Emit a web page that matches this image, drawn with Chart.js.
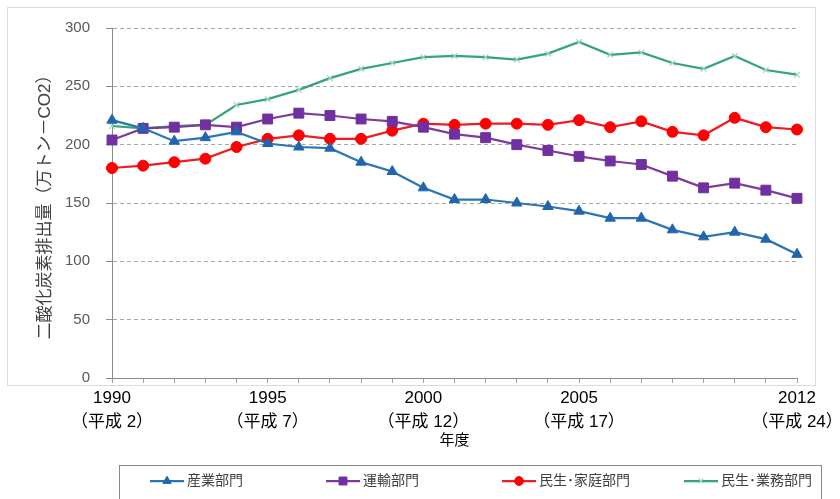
<!DOCTYPE html>
<html>
<head>
<meta charset="utf-8">
<script src="https://cdn.jsdelivr.net/npm/chart.js@4/dist/chart.umd.min.js"></script>
<style>
  html, body { margin: 0; padding: 0; background: #fff; }
  #wrap { width: 840px; height: 499px; }
</style>
</head>
<body>
<div id="wrap"><canvas id="c" width="840" height="499"></canvas></div>
<script>
// 年度 (fiscal years)
const years = [1990, 1991, 1992, 1993, 1994, 1995, 1996, 1997, 1998, 1999, 2000,
               2001, 2002, 2003, 2004, 2005, 2006, 2007, 2008, 2009, 2010, 2011, 2012];

// Labelled years and their 平成 equivalents
const labelledYears = [1990, 1995, 2000, 2005, 2012];
const heiseiLabels = ['（平成 2）', '（平成 7）', '（平成 12）', '（平成 17）', '（平成 24）'];

// CO2 emissions by sector (万トン-CO2)
const industry    = [221, 214, 203, 206, 211, 201, 198, 197, 185, 177, 163, 153, 153, 150, 147, 143, 137, 137, 127, 121, 125, 119, 106];
const transport   = [204, 214, 215, 217, 215, 222, 227, 225, 222, 220, 215, 209, 206, 200, 195, 190, 186, 183, 173, 163, 167, 161, 154];
const household   = [180, 182, 185, 188, 198, 205, 208, 205, 205, 212, 218, 217, 218, 218, 217, 221, 215, 220, 211, 208, 223, 215, 213];
const commercial  = [216, 214, 216, 217, 234, 239, 247, 257, 265, 270, 275, 276, 275, 273, 278, 288, 277, 279, 270, 265, 276, 264, 260];

const seriesNames = ['産業部門', '運輸部門', '民生･家庭部門', '民生･業務部門'];

// Y axis range
const yMin = 0, yMax = 300, yStep = 50;

const FONT = '"Liberation Sans", "Noto Sans CJK JP", "DejaVu Sans", sans-serif';

// Outer plot frame and boxed legend drawn on the canvas
const extrasPlugin = {
  id: 'extras',
  afterDraw(chart) {
    const ctx = chart.ctx;
    ctx.save();
    // light frame around the plot
    ctx.strokeStyle = '#dcdcdc';
    ctx.lineWidth = 1;
    ctx.strokeRect(7.5, 7.5, 808, 378);

    // legend box
    ctx.strokeStyle = '#8a8a8a';
    ctx.strokeRect(119.5, 465.5, 702, 40);

    const iconX = [150, 326, 502, 684];
    const iconLen = 34;
    const cy = 481;
    chart.data.datasets.forEach((ds, i) => {
      const x0 = iconX[i];
      ctx.strokeStyle = ds.borderColor;
      ctx.lineWidth = 2.25;
      ctx.beginPath();
      ctx.moveTo(x0, cy);
      ctx.lineTo(x0 + iconLen, cy);
      ctx.stroke();
      ctx.fillStyle = ds.pointBackgroundColor;
      ctx.strokeStyle = ds.pointBorderColor;
      ctx.lineWidth = ds.pointBorderWidth;
      Chart.helpers.drawPoint(ctx, {
        pointStyle: ds.pointStyle,
        rotation: 0,
        radius: ds.pointRadius * 0.8,
        borderWidth: ds.pointBorderWidth
      }, x0 + iconLen / 2, cy);
      ctx.fillStyle = '#404040';
      ctx.font = '14px ' + FONT;
      ctx.textAlign = 'left';
      ctx.textBaseline = 'middle';
      ctx.fillText(ds.label, x0 + iconLen + 3, cy);
    });
    ctx.restore();
  }
};

const makeSet = (label, data, line, fill, style, radius, borderW, borderC) => ({
  label, data,
  borderColor: line,
  backgroundColor: fill,
  borderWidth: 2.25,
  pointStyle: style,
  pointRadius: radius,
  pointHoverRadius: radius,
  pointBackgroundColor: fill,
  pointBorderColor: borderC,
  pointBorderWidth: borderW,
  tension: 0,
  fill: false
});

new Chart(document.getElementById('c'), {
  type: 'line',
  data: {
    labels: years,
    datasets: [
      makeSet(seriesNames[0], industry,   '#2b74b5', '#2166ad', 'triangle', 6,   1, '#2166ad'),
      makeSet(seriesNames[1], transport,  '#7c3c9c', '#7030a0', 'rect',     7,   1, '#7030a0'),
      makeSet(seriesNames[2], household,  '#f01c24', '#ff0000', 'circle',   5.5, 1, '#ff0000'),
      makeSet(seriesNames[3], commercial, '#34a576', '#a9dcc5', 'crossRot', 4,   1.2, '#9fd6bd')
    ]
  },
  options: {
    responsive: false,
    devicePixelRatio: 1,
    animation: false,
    layout: { padding: { left: 0, right: 43, top: 28, bottom: 0 } },
    plugins: {
      legend: { display: false },
      tooltip: { enabled: false }
    },
    scales: {
      x: {
        type: 'category',
        offset: false,
        grid: {
          display: true,
          drawOnChartArea: false,
          drawTicks: true,
          tickLength: 5,
          tickColor: '#a0a0a0'
        },
        border: { display: true, color: '#8c8c8c', width: 1 },
        ticks: {
          autoSkip: false,
          maxRotation: 0,
          minRotation: 0,
          padding: 3,
          color: '#000',
          font: { family: FONT, size: 17, lineHeight: 1.42 },
          callback: function (value, index) {
            const y = years[index];
            const k = labelledYears.indexOf(y);
            return k >= 0 ? [String(y), heiseiLabels[k]] : '';
          }
        },
        title: {
          display: true,
          text: '年度',
          color: '#000',
          font: { family: FONT, size: 15, lineHeight: 1.2 },
          padding: { top: 0, bottom: 49 }
        },
        afterFit(scale) {
          scale.height = 121;
          // let the last label run into the right margin
          scale.paddingLeft = 0;
          scale.paddingRight = 0;
        }
      },
      y: {
        min: yMin,
        max: yMax,
        ticks: {
          stepSize: yStep,
          padding: 16,
          color: '#595959',
          font: { family: FONT, size: 15 }
        },
        grid: {
          color: (c) => (c.tick && c.tick.value === 0 ? 'rgba(0,0,0,0)' : '#a8a8a8'),
          lineWidth: 1,
          drawTicks: true,
          tickLength: 6,
          tickColor: '#8c8c8c'
        },
        border: { display: true, color: '#8c8c8c', width: 1, dash: [4, 3] },
        title: {
          display: true,
          text: '二酸化炭素排出量（万トン－CO2）',
          color: '#404040',
          font: { family: FONT, size: 17, lineHeight: 1.2 },
          padding: { top: 35, bottom: 0 }
        },
        afterFit(scale) { scale.width = 112; }
      }
    }
  },
  plugins: [extrasPlugin]
});
</script>
</body>
</html>
